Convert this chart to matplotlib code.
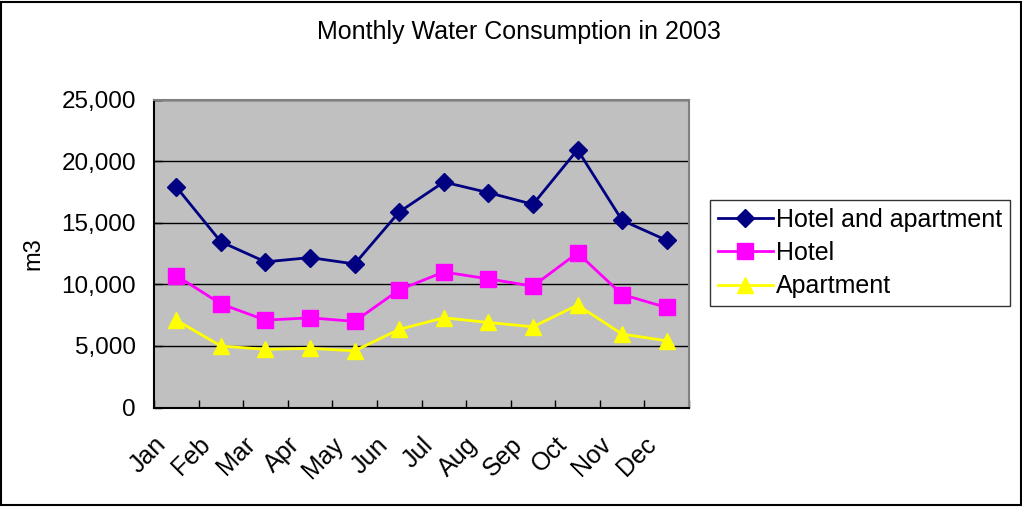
import matplotlib
matplotlib.use("Agg")
import matplotlib.pyplot as plt
from matplotlib.ticker import FuncFormatter, MultipleLocator
from matplotlib.patches import Rectangle
import matplotlib.transforms as mtransforms

months = ["Jan", "Feb", "Mar", "Apr", "May", "Jun", "Jul", "Aug", "Sep", "Oct", "Nov", "Dec"]
hotel_and_apartment = [17900, 13450, 11820, 12170, 11650, 15870, 18300, 17440, 16490, 20920, 15190, 13570]
hotel = [10710, 8410, 7090, 7280, 6990, 9550, 11000, 10440, 9850, 12550, 9170, 8120]
apartment = [7090, 4990, 4720, 4800, 4600, 6340, 7280, 6900, 6550, 8310, 5960, 5410]

plt.rcParams['font.family'] = ['Liberation Sans', 'DejaVu Sans']

fig = plt.figure(figsize=(10.22, 5.07), dpi=100)
fig.patch.set_facecolor('white')
fig.patches.append(Rectangle((0.001, 0.003), 0.998, 0.993, transform=fig.transFigure,
                             fill=False, edgecolor='black', linewidth=1.5))

ax = fig.add_axes([154 / 1022, 99.5 / 507, 535 / 1022, 308 / 507])
ax.set_facecolor('#C0C0C0')

x = list(range(len(months)))
ax.plot(x, hotel_and_apartment, color='#000080', marker='D', markersize=9, linewidth=2,
        label='Hotel and apartment', zorder=5)
ax.plot(x, hotel, color='#FF00FF', marker='s', markersize=11, linewidth=2,
        label='Hotel', zorder=4)
ax.plot(x, apartment, color='#FFFF00', marker='^', markersize=12, linewidth=2,
        label='Apartment', zorder=3)

ax.set_xlim(-0.5, 11.5)
ax.set_ylim(0, 25000)
ax.yaxis.set_major_locator(MultipleLocator(5000))
ax.yaxis.set_major_formatter(FuncFormatter(lambda v, p: f"{int(v):,}"))
ax.grid(axis='y', color='black', linewidth=1)
ax.set_axisbelow(True)

ax.set_xticks(x)
ax.set_xticklabels(months, rotation=45, ha='right', va='top', fontsize=18)
ax.set_xticks([i - 0.5 for i in range(13)], minor=True)
ax.tick_params(axis='x', which='major', length=0, pad=18)
ax.tick_params(axis='x', which='minor', length=6, direction='in', width=1)
ax.tick_params(axis='y', labelsize=17.5, length=6, direction='in', width=1, pad=13)
offset = mtransforms.ScaledTranslation(-6 / 100, 0, fig.dpi_scale_trans)
for lab in ax.get_xticklabels():
    lab.set_transform(lab.get_transform() + offset)

for s in ['left', 'bottom']:
    ax.spines[s].set_color('black')
    ax.spines[s].set_linewidth(1.5)
for s in ['top', 'right']:
    ax.spines[s].set_color('#808080')
    ax.spines[s].set_linewidth(1.5)

ax.set_ylabel('m3', fontsize=17, labelpad=12)

fig.text(0.508, 1 - 32 / 507, 'Monthly Water Consumption in 2003', ha='center', va='center',
         fontsize=18)

leg = fig.legend(loc='upper left', bbox_to_anchor=(710 / 1022, 1 - 200 / 507),
                 frameon=True, fancybox=False, shadow=False, fontsize=18,
                 handlelength=2.2, handletextpad=0.15, borderpad=0.3, labelspacing=0.38,
                 borderaxespad=0)
leg.get_frame().set_edgecolor('black')
leg.get_frame().set_linewidth(1)

fig.savefig('out.png', dpi=100, facecolor='white')
